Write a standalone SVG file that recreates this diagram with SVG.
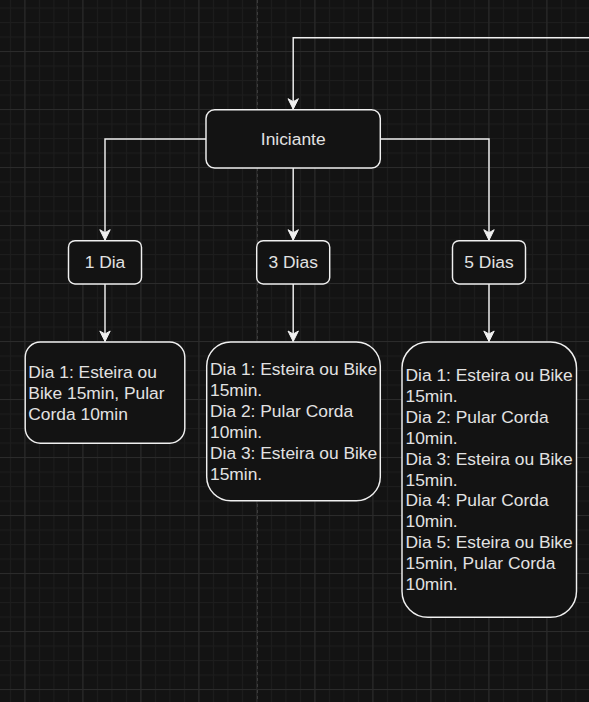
<svg xmlns="http://www.w3.org/2000/svg" width="589" height="702" viewBox="0 0 589 702">
<defs>
<pattern id="minor" patternUnits="userSpaceOnUse" x="9.9" y="7.5" width="14.5" height="14.5">
<rect x="0" y="0" width="1" height="14.5" fill="#1d1d1d"/>
<rect x="0" y="0" width="14.5" height="1" fill="#1d1d1d"/>
</pattern>
<pattern id="major" patternUnits="userSpaceOnUse" x="24.4" y="51" width="58" height="58">
<rect x="0" y="0" width="1" height="58" fill="#2b2b2b"/>
<rect x="0" y="0" width="58" height="1" fill="#2b2b2b"/>
</pattern>
<marker id="arr" markerUnits="userSpaceOnUse" viewBox="-12 -7 13 14" refX="0" refY="0" markerWidth="13" markerHeight="14" orient="auto">
<path d="M0 0 L-10.5 -5.2 L-7.5 0 L-10.5 5.2 Z" fill="#f0f0f0" stroke="#f0f0f0" stroke-width="1"/>
</marker>
<style>
.node{fill:#131313;stroke:#f0f0f0;stroke-width:1.45}
.lbl{font-family:"Liberation Sans",Arial,sans-serif;font-size:17.4px;fill:#e2e2e2}
.c{text-anchor:middle}
.edge{fill:none;stroke:#f0f0f0;stroke-width:1.45}
</style>
</defs>
<rect width="589" height="702" fill="#131313"/>
<rect width="589" height="702" fill="url(#minor)"/>
<rect width="589" height="702" fill="url(#major)"/>
<line x1="257.5" y1="0" x2="257.5" y2="702" stroke="#3c3c3c" stroke-width="1" stroke-dasharray="3 3"/>

<g id="connectors">
<path class="edge" d="M589 37.7 H293.2 V109.2" marker-end="url(#arr)"/>
<path class="edge" d="M206 139 H105 V240.2" marker-end="url(#arr)"/>
<path class="edge" d="M293.2 168 V240.2" marker-end="url(#arr)"/>
<path class="edge" d="M380.3 139 H489 V240.2" marker-end="url(#arr)"/>
<path class="edge" d="M105 284 V341.5" marker-end="url(#arr)"/>
<path class="edge" d="M293.2 284 V341.5" marker-end="url(#arr)"/>
<path class="edge" d="M489 284 V341.5" marker-end="url(#arr)"/>
</g>

<g id="iniciante">
<rect class="node" x="206" y="109.7" width="174.3" height="58.3" rx="8.7"/>
<text class="lbl c" x="293.2" y="145.3">Iniciante</text>
</g>

<g id="dia1">
<rect class="node" x="68.5" y="240.7" width="73" height="43.3" rx="6.5"/>
<text class="lbl c" x="105" y="268.3">1 Dia</text>
</g>

<g id="dias3">
<rect class="node" x="256.7" y="240.7" width="73" height="43.3" rx="6.5"/>
<text class="lbl c" x="293.2" y="268.3">3 Dias</text>
</g>

<g id="dias5">
<rect class="node" x="452.5" y="240.7" width="73" height="43.3" rx="6.5"/>
<text class="lbl c" x="489" y="268.3">5 Dias</text>
</g>

<g id="plano1">
<rect class="node" x="25.2" y="342" width="159.6" height="101.3" rx="15.2"/>
<text class="lbl" x="28.3" y="377.7">
<tspan x="28.3">Dia 1: Esteira ou</tspan>
<tspan x="28.3" dy="20.9">Bike 15min, Pular</tspan>
<tspan x="28.3" dy="20.9">Corda 10min</tspan>
</text>
</g>

<g id="plano3">
<rect class="node" x="206.7" y="342" width="173.6" height="158.7" rx="24"/>
<text class="lbl" x="210" y="375.2">
<tspan x="210">Dia 1: Esteira ou Bike</tspan>
<tspan x="210" dy="20.9">15min.</tspan>
<tspan x="210" dy="20.9">Dia 2: Pular Corda</tspan>
<tspan x="210" dy="20.9">10min.</tspan>
<tspan x="210" dy="20.9">Dia 3: Esteira ou Bike</tspan>
<tspan x="210" dy="20.9">15min.</tspan>
</text>
</g>

<g id="plano5">
<rect class="node" x="402" y="342" width="174.5" height="275.3" rx="26"/>
<text class="lbl" x="405.5" y="381">
<tspan x="405.5">Dia 1: Esteira ou Bike</tspan>
<tspan x="405.5" dy="20.9">15min.</tspan>
<tspan x="405.5" dy="20.9">Dia 2: Pular Corda</tspan>
<tspan x="405.5" dy="20.9">10min.</tspan>
<tspan x="405.5" dy="20.9">Dia 3: Esteira ou Bike</tspan>
<tspan x="405.5" dy="20.9">15min.</tspan>
<tspan x="405.5" dy="20.9">Dia 4: Pular Corda</tspan>
<tspan x="405.5" dy="20.9">10min.</tspan>
<tspan x="405.5" dy="20.9">Dia 5: Esteira ou Bike</tspan>
<tspan x="405.5" dy="20.9">15min, Pular Corda</tspan>
<tspan x="405.5" dy="20.9">10min.</tspan>
</text>
</g>
</svg>
